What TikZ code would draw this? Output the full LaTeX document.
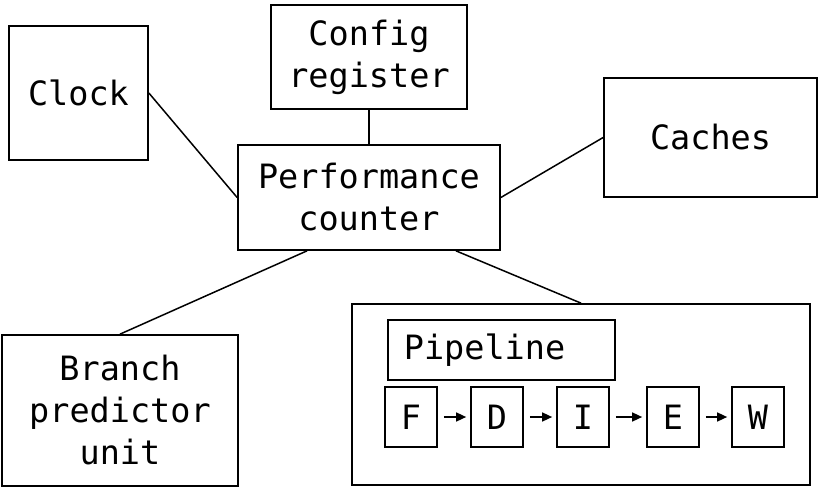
\documentclass[tikz,border=0pt]{standalone}
\usepackage{fontspec}
\setmonofont{DejaVu Sans Mono}
\usetikzlibrary{arrows.meta}

\begin{document}
\begin{tikzpicture}[x=1pt,y=-1pt,
    block/.style={draw, line width=1.7pt, inner sep=0pt, align=center,
      font=\ttfamily\fontsize{33.5}{42}\selectfont},
    stage/.style={block, minimum width=52pt, minimum height=60pt},
    link/.style={line width=1.5pt},
    flow/.style={line width=1.5pt, -{Triangle[length=10pt,width=9pt]},
      shorten <=6pt, shorten >=4pt}]
    \useasboundingbox (0,0) rectangle (818,502);

    % Blocks
    \node[block, minimum width=139pt, minimum height=134pt] (clock) at (78.5,93) {Clock};
    \node[block, minimum width=196pt, minimum height=104pt] (config) at (369,57) {Config\\register};
    \node[block, minimum width=213pt, minimum height=119pt] (caches) at (710.5,137.5) {Caches};
    \node[block, minimum width=262pt, minimum height=105pt] (perf) at (369,197.5) {Performance\\counter};
    \node[block, minimum width=236pt, minimum height=151pt] (branch) at (120,410.5) {Branch\\predictor\\unit};

    % Pipeline
    \node[block, minimum width=458pt, minimum height=181pt] (pipe) at (581,394.5) {};
    \node[block, minimum height=60pt, inner xsep=16pt, text width=195pt, align=left,
      anchor=west] (pipename) at (387,350) {Pipeline};
    \node[stage] (F) at (411,417) {F};
    \node[stage] (D) at (497,417) {D};
    \node[stage] (I) at (583,417) {I};
    \node[stage] (E) at (673,417) {E};
    \node[stage] (W) at (758,417) {W};
    \draw[flow] (F) -- (D);
    \draw[flow] (D) -- (I);
    \draw[flow] (I) -- (E);
    \draw[flow] (E) -- (W);

    % Links to the counter
    \draw[link] (clock.east) -- (perf.west);
    \draw[link] (config) -- (perf);
    \draw[link] (caches.west) -- (perf.east);
    \draw[link] ([xshift=-62pt]perf.south) -- (branch.north);
    \draw[link] ([xshift=87pt]perf.south) -- (pipe.north);
\end{tikzpicture}
\end{document}
